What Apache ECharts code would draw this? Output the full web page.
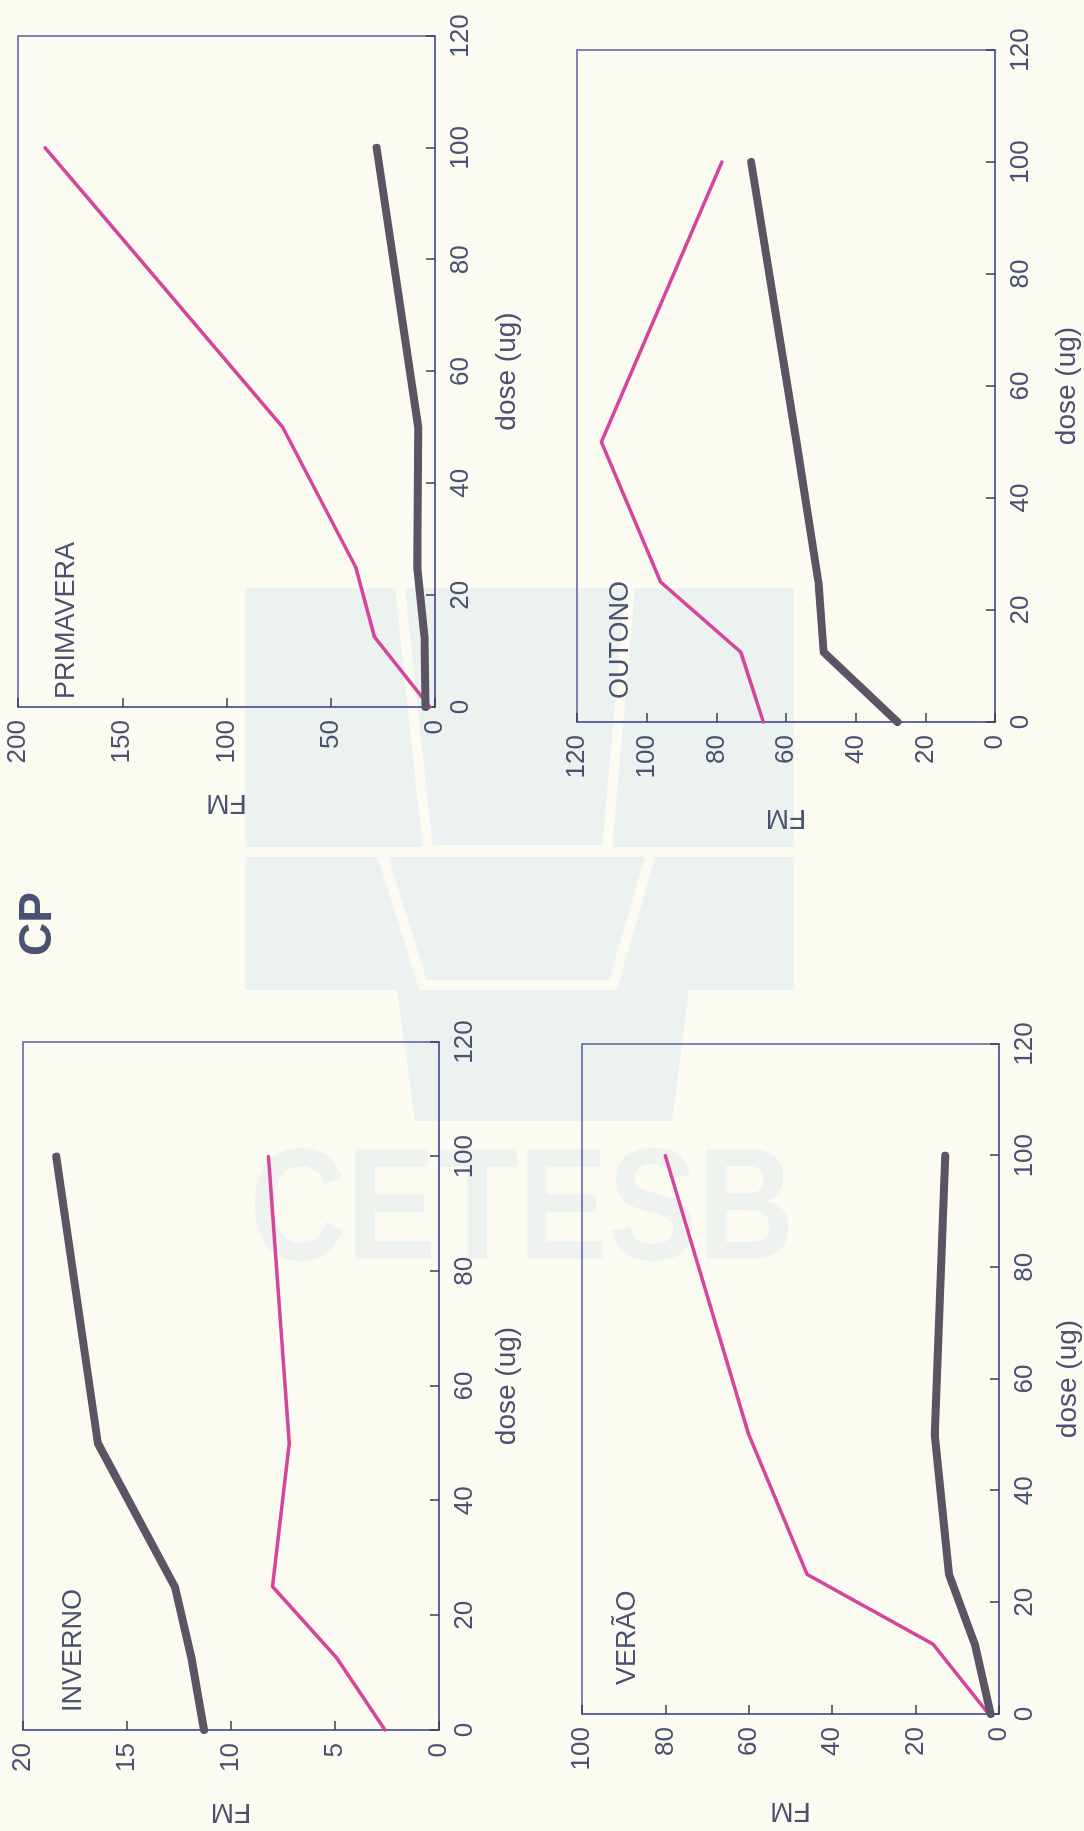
<!DOCTYPE html>
<html><head><meta charset="utf-8">
<script src="https://cdn.jsdelivr.net/npm/echarts@6/dist/echarts.min.js"></script>
<style>
html,body{margin:0;padding:0;width:1084px;height:1831px;overflow:hidden;background:#fcfbf1;}
#bg{position:absolute;left:0;top:0;width:1084px;height:1831px;}
#chart{position:absolute;left:0;top:0;width:1831px;height:1084px;transform-origin:0 0;transform:translateY(1831px) rotate(-90deg);}
</style></head><body>
<div id="bg"></div><div id="chart"></div>
<script>
// ---- data ----
const doses = [0, 12.5, 25, 50, 100];
const panelNames = ['PRIMAVERA', 'OUTONO', 'INVERNO', 'VERÃO'];
const primaveraDark = [4.5, 5, 8.5, 8, 28];
const primaveraPink = [2.5, 29, 38, 73, 187];
const outonoDark = [28, 49.2, 50.7, 57, 70];
const outonoPink = [66.5, 73, 96, 113, 78.4];
const invernoDark = [11.3, 11.9, 12.7, 16.4, 18.4];
const invernoPink = [2.6, 4.9, 8.0, 7.2, 8.2];
const veraoDark = [2, 5.8, 12, 15.4, 12.9];
const veraoPink = [2.5, 15.8, 46, 60, 80];
const fmMax = [200, 120, 20, 100];
const fmInterval = [50, 20, 5, 20];
const doseMin = 0, doseMax = 120, doseInterval = 20;
const mainTitle = 'CP';
const xName = 'dose (ug)';
const yName = 'FM';
const watermarkText = 'CETESB';

// ---- layout (original, unrotated orientation) ----
const grids = [
  {left: 1124, top: 18, width: 671, height: 417},
  {left: 1109, top: 577, width: 672, height: 418},
  {left: 101, top: 23, width: 688, height: 416},
  {left: 117, top: 582, width: 670, height: 417}
];
const xNameGaps = [58, 58, 54, 55];
const yNameGaps = [82, 82, 68, 83];
const labelPos = [[1132, 67], [1132, 621], [119, 74], [146, 628]];

const darkSets = [primaveraDark, outonoDark, invernoDark, veraoDark];
const pinkSets = [primaveraPink, outonoPink, invernoPink, veraoPink];

const FONT = '"Liberation Sans", Arial, Helvetica, sans-serif';
const TXT = '#4b5170';
const BOX = '#575ca3';
const DARK = '#5a5464';
const PINK = '#d6459d';

function pairs(vals) { return doses.map((d, i) => [d, vals[i]]); }

const option = {
  backgroundColor: 'transparent',
  animation: false,
  grid: grids.map(g => Object.assign({show: true, borderColor: BOX, borderWidth: 1.5, backgroundColor: 'transparent', outerBoundsMode: 'none', containLabel: false}, g)),
  xAxis: grids.map((g, i) => ({
    type: 'value', gridIndex: i, min: doseMin, max: doseMax, interval: doseInterval,
    position: 'bottom',
    name: xName, nameLocation: 'middle', nameGap: xNameGaps[i],
    nameTextStyle: {fontFamily: FONT, fontSize: 28, color: TXT},
    axisLine: {show: true, onZero: false, lineStyle: {color: BOX, width: 1.5}},
    axisTick: {show: true, inside: true, length: 9, lineStyle: {color: '#3e3e4a', width: 1.5}},
    axisLabel: {show: true, margin: 13, fontFamily: FONT, fontSize: 26, color: TXT, showMinLabel: true, showMaxLabel: true},
    splitLine: {show: false}
  })),
  yAxis: grids.map((g, i) => ({
    type: 'value', gridIndex: i, min: 0, max: fmMax[i], interval: fmInterval[i],
    position: 'left',
    name: yName, nameLocation: 'middle', nameGap: yNameGaps[i],
    nameTextStyle: {fontFamily: FONT, fontSize: 28, color: TXT},
    axisLine: {show: true, onZero: false, lineStyle: {color: BOX, width: 1.5}},
    axisTick: {show: true, inside: true, length: 9, lineStyle: {color: '#3e3e4a', width: 1.5}},
    axisLabel: {show: true, margin: 13, fontFamily: FONT, fontSize: 26, color: TXT, showMinLabel: true, showMaxLabel: true},
    splitLine: {show: false}
  })),
  series: [],
  graphic: []
};

grids.forEach((g, i) => {
  option.series.push({
    type: 'line', xAxisIndex: i, yAxisIndex: i, data: pairs(pinkSets[i]),
    showSymbol: false, symbol: 'none', silent: true,
    lineStyle: {color: PINK, width: 3.5, cap: 'round', join: 'round'}
  });
  option.series.push({
    type: 'line', xAxisIndex: i, yAxisIndex: i, data: pairs(darkSets[i]),
    showSymbol: false, symbol: 'none', silent: true,
    lineStyle: {color: DARK, width: 8, cap: 'round', join: 'round'}
  });
  option.graphic.push({
    type: 'text', x: labelPos[i][0], y: labelPos[i][1],
    style: {text: panelNames[i], fontFamily: FONT, fontSize: 27, fill: TXT,
      align: 'left', verticalAlign: 'middle', textAlign: 'left', textVerticalAlign: 'middle'}
  });
});
option.graphic.push({
  type: 'text', x: 907, y: 38,
  style: {text: mainTitle, fontFamily: FONT, fontSize: 46, fontWeight: 'bold', fill: TXT,
    align: 'center', verticalAlign: 'middle', textAlign: 'center', textVerticalAlign: 'middle'}
});

const chart = echarts.init(document.getElementById('chart'), null, {renderer: 'canvas', width: 1831, height: 1084});
chart.setOption(option);

// ---- background watermark (page orientation) ----
const WM = '#ecf2ef';
const WMT = '#eef3ef';
const BGC = '#fcfbf1';
const bg = echarts.init(document.getElementById('bg'), null, {renderer: 'canvas', width: 1084, height: 1831});
bg.setOption({
  backgroundColor: BGC,
  animation: false,
  graphic: [
    {type: 'rect', shape: {x: 245, y: 588, width: 549, height: 402}, style: {fill: WM}, silent: true},
    {type: 'polygon', shape: {points: [[397, 990], [689, 990], [672, 1121], [415, 1121]]}, style: {fill: WM}, silent: true},
    {type: 'polyline', shape: {points: [[400, 588], [428, 850], [607, 850], [630, 588]]}, style: {stroke: BGC, lineWidth: 10, fill: null}, silent: true},
    {type: 'line', shape: {x1: 245, y1: 852, x2: 794, y2: 852}, style: {stroke: BGC, lineWidth: 10}, silent: true},
    {type: 'polyline', shape: {points: [[383, 857], [423, 985], [613, 985], [650, 857]]}, style: {stroke: BGC, lineWidth: 10, fill: null}, silent: true},
    {type: 'text', x: 522, y: 1215, scaleX: 0.84, silent: true,
      style: {text: watermarkText, fontFamily: FONT, fontSize: 160, fontWeight: 'bold', fill: WMT,
        align: 'center', verticalAlign: 'middle', textAlign: 'center', textVerticalAlign: 'middle'}}
  ]
});
</script>
</body></html>
